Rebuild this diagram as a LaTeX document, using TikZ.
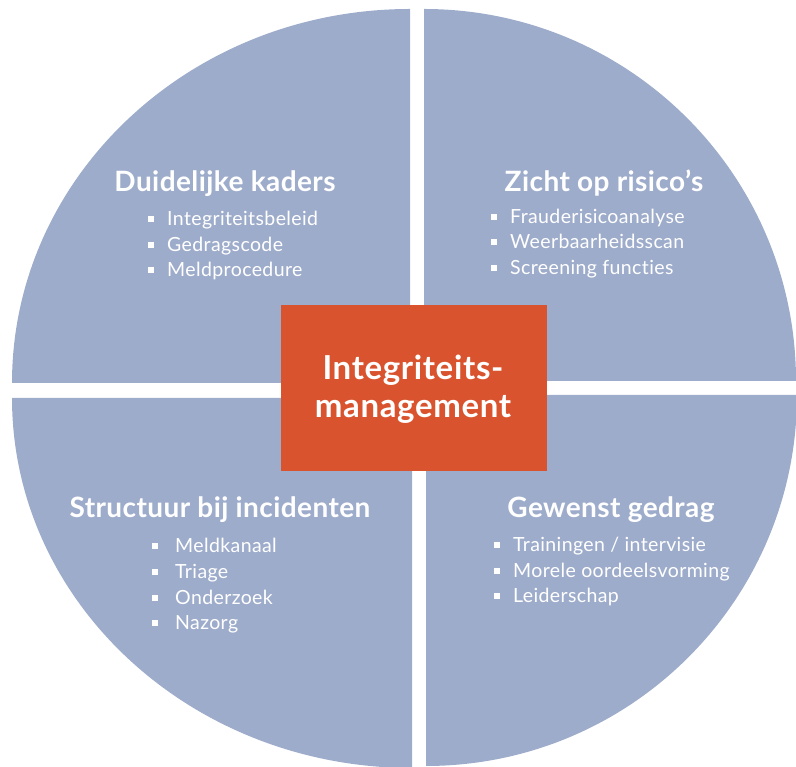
\documentclass[tikz,border=0pt]{standalone}
\usepackage{fontspec}
\setmainfont{Lato}[LetterSpace=2, Ligatures=NoCommon]
\newfontfamily\latobold{Lato Bold}[LetterSpace=2, Ligatures=NoCommon]
\newfontfamily\latoboldhead{Lato Bold}[LetterSpace=1.5, Ligatures=NoCommon]
\usetikzlibrary{calc}
\definecolor{quadblue}{HTML}{9EACCB}
\definecolor{coreorange}{HTML}{D9542E}
\tikzset{
  quad/.style={fill=quadblue},
  corebox/.style={fill=coreorange, draw=none, minimum width=266pt, minimum height=166pt, inner sep=0pt},
  coretext/.style={text=white, font=\latobold\fontsize{33}{38}\selectfont, anchor=base, inner sep=0pt},
  head/.style={text=white, font=\latoboldhead\fontsize{28}{32}\selectfont, anchor=base, inner sep=0pt},
  item/.style={text=white, font=\fontsize{19.5}{22}\selectfont, anchor=base west, inner sep=0pt},
  bul/.style={fill=white}
}
\begin{document}
\begin{tikzpicture}[x=1pt,y=1pt]
\useasboundingbox (0,0) rectangle (796,767);
% quadrants
\fill[quad] (410,384) -- (12,384) arc[start angle=180, end angle=90, x radius=398, y radius=374] -- cycle;
\fill[quad] (424,386) -- (796,386) arc[start angle=0, end angle=90, radius=372] -- cycle;
\fill[quad] (412,369) -- (12,369) arc[start angle=180, end angle=270, x radius=400, y radius=370] -- cycle;
\fill[quad] (426,372) -- (797,372) arc[start angle=0, end angle=-90, radius=371] -- cycle;
% center
\node[corebox] (core) at (414,379) {};
\node[coretext] (core1) at (413,387) {Integriteits-};
\node[coretext] (core2) at (413,349) {management};
% TL
\node[head] (h1) at (225,575) {Duidelijke kaders};
\node[item] (a1) at (167,541) {Integriteitsbeleid};
\node[item] (a2) at (167,515) {Gedragscode};
\node[item] (a3) at (167,490) {Meldprocedure};
% TR
\node[head] (h2) at (604,575) {Zicht op risico’s};
\node[item] (b1) at (510,543) {Frauderisicoanalyse};
\node[item] (b2) at (510,518) {Weerbaarheidsscan};
\node[item] (b3) at (510,492) {Screening functies};
% BL
\node[head] (h3) at (220,249) {Structuur bij incidenten};
\node[item] (c1) at (175,214) {Meldkanaal};
\node[item] (c2) at (175,188) {Triage};
\node[item] (c3) at (175,162) {Onderzoek};
\node[item] (c4) at (175,137) {Nazorg};
% BR
\node[head] (h4) at (611,249) {Gewenst gedrag};
\node[item] (d1) at (513,215) {Trainingen / intervisie};
\node[item] (d2) at (513,189) {Morele oordeelsvorming};
\node[item] (d3) at (513,164) {Leiderschap};
% bullets
\foreach \n in {a1,a2,a3,b1,b2,b3,d1,d2,d3}
  \fill[bul] ($(\n.base west)+(-19,4)$) rectangle ++(6,6);
\foreach \n in {c1,c2,c3,c4}
  \fill[bul] ($(\n.base west)+(-23,4)$) rectangle ++(6,6);
\end{tikzpicture}
\end{document}
